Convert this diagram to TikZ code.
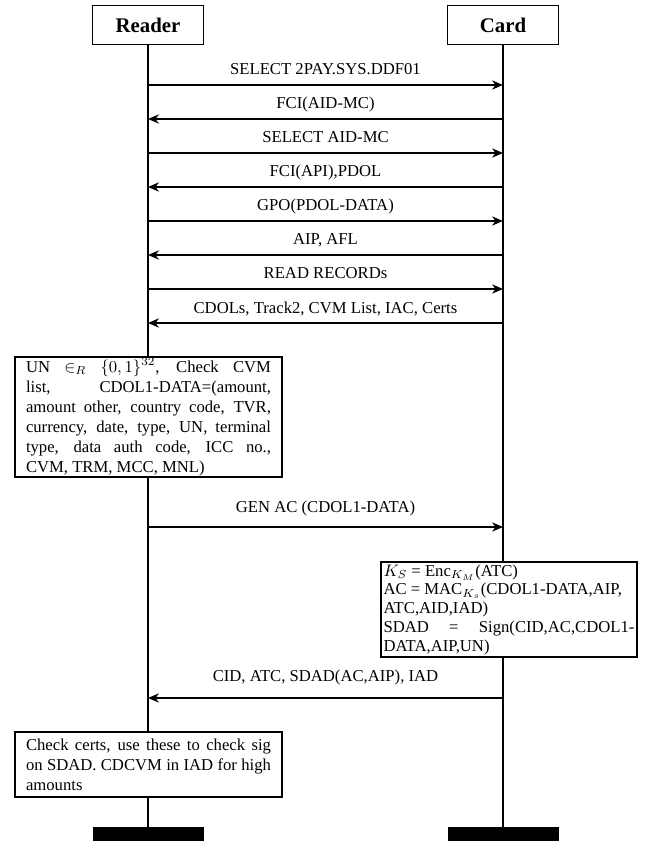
\documentclass[tikz,border=0pt]{standalone}
\usepackage{fontspec}
\setmainfont{Liberation Serif}
\usetikzlibrary{arrows.meta}
\begin{document}
\begin{tikzpicture}[x=0.6pt,y=-0.6pt,
  inst/.style={draw, line width=0.9pt, minimum width=66.6pt, minimum height=23.4pt, inner sep=0pt, font=\fontsize{12.5}{14}\selectfont\bfseries},
  bar/.style={fill=black, minimum width=66.6pt, minimum height=8.4pt, inner sep=0pt},
  lifeline/.style={line width=1.2pt},
  msg/.style={line width=0.9pt, -{Stealth[length=6.5pt,width=5.5pt,inset=2pt]}},
  lbl/.style={midway, anchor=base, inner sep=0pt, font=\fontsize{10}{12}\selectfont},
  act/.style={draw, fill=white, line width=0.9pt, align=justify, font=\fontsize{10}{12}\selectfont, inner ysep=0pt}
]
\useasboundingbox (0,0) rectangle (644,844);
% heads
\node[inst] (reader) at (148,25) {Reader};
\node[inst] (card) at (503,25) {Card};
% end bars
\node[bar] (rend) at (148,834) {};
\node[bar] (cend) at (503,834) {};
% lifelines
\draw[lifeline] (reader.south) -- (rend.north);
\draw[lifeline] (card.south) -- (cend.north);
% messages
\draw[msg] (reader |- 0,85) -- (card |- 0,85) node[lbl, yshift=6pt] {SELECT 2PAY.SYS.DDF01};
\draw[msg] (card |- 0,119) -- (reader |- 0,119) node[lbl, yshift=6pt] {FCI(AID-MC)};
\draw[msg] (reader |- 0,153) -- (card |- 0,153) node[lbl, yshift=6pt] {SELECT AID-MC};
\draw[msg] (card |- 0,187) -- (reader |- 0,187) node[lbl, yshift=6pt] {FCI(API),PDOL};
\draw[msg] (reader |- 0,221) -- (card |- 0,221) node[lbl, yshift=6pt] {GPO(PDOL-DATA)};
\draw[msg] (card |- 0,255) -- (reader |- 0,255) node[lbl, yshift=6pt] {AIP, AFL};
\draw[msg] (reader |- 0,289) -- (card |- 0,289) node[lbl, yshift=6pt] {READ RECORDs};
\draw[msg] (card |- 0,323) -- (reader |- 0,323) node[lbl, yshift=6pt] {CDOLs, Track2, CVM List, IAC, Certs};
% action 1
\node[act, text width=147pt, inner xsep=6.6pt, minimum height=72pt] (act1) at (148.5,417) {UN $\in_R$ $\{0,1\}^{32}$, Check CVM\linebreak
list, CDOL1-DATA=(amount,\linebreak
amount other, country code, TVR,\linebreak
currency, date, type, UN, terminal\linebreak
type, data auth code, ICC no.,\linebreak
CVM, TRM, MCC, MNL)};
\draw[msg] (reader |- 0,527) -- (card |- 0,527) node[lbl, yshift=9pt] {GEN AC (CDOL1-DATA)};
% action 2
\node[act, text width=150.6pt, inner xsep=1.5pt, minimum height=57pt, font=\fontsize{10}{11.25}\selectfont] (act2) at (509,609.5) {$K_S$ = Enc$_{K_M}$(ATC)\\
AC = MAC$_{K_s}$(CDOL1-DATA,AIP,\\
ATC,AID,IAD)\\
SDAD = Sign(CID,AC,CDOL1-\linebreak
DATA,AIP,UN)};
\draw[msg] (card |- 0,698) -- (reader |- 0,698) node[lbl, yshift=10pt] {CID, ATC, SDAD(AC,AIP), IAD};
% action 3
\node[act, text width=147pt, inner xsep=6.6pt, minimum height=39pt] (act3) at (148.5,764.5) {Check certs, use these to check sig\linebreak
on SDAD. CDCVM in IAD for high\linebreak
amounts};
\end{tikzpicture}
\end{document}
